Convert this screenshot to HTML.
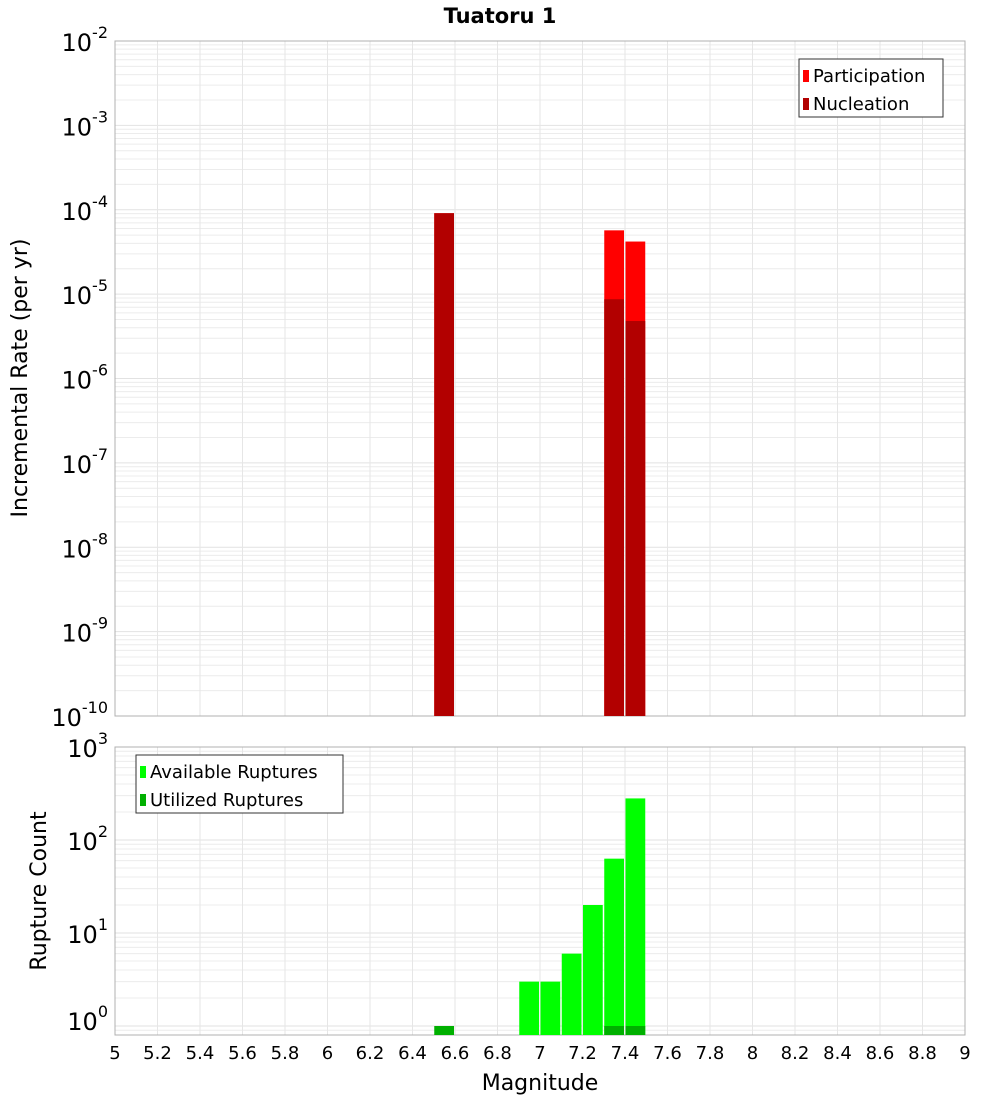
<!DOCTYPE html>
<html><head><meta charset="utf-8"><style>
body{margin:0;background:#fff;}
svg text{font-family:"DejaVu Sans","Liberation Sans",sans-serif;fill:#000;}
</style></head><body>
<svg id="c" width="1000" height="1100" xmlns="http://www.w3.org/2000/svg">
<text x="500" y="23" text-anchor="middle" font-size="21" font-weight="bold">Tuatoru 1</text>
<g id="top"></g><g id="bot"></g>
<text transform="translate(27,378) rotate(-90)" text-anchor="middle" font-size="22">Incremental Rate (per yr)</text>
<text transform="translate(46,891) rotate(-90)" text-anchor="middle" font-size="22">Rupture Count</text>
<text x="540" y="1090" text-anchor="middle" font-size="22">Magnitude</text>
</svg>
<script>
const mags = [6.55, 7.35, 7.45];
const participation = [9.1e-5, 5.7e-5, 4.2e-5];
const nucleation = [9.1e-5, 8.7e-6, 4.8e-6];
const countMags = [6.55, 6.95, 7.05, 7.15, 7.25, 7.35, 7.45];
const available = [0, 3, 3, 6, 20, 63, 280];
const utilized = [1, 0, 0, 0, 0, 1, 1];
const xTicks = [5,5.2,5.4,5.6,5.8,6,6.2,6.4,6.6,6.8,7,7.2,7.4,7.6,7.8,8,8.2,8.4,8.6,8.8,9];
const topExps = [-2,-3,-4,-5,-6,-7,-8,-9,-10];
const botExps = [3,2,1,0];

const NS='http://www.w3.org/2000/svg';
const X0=115,X1=965;
const x=m=>X0+(m-5)/4*(X1-X0);
const yTop=v=>41+(-2-Math.log10(v))*84.375;
const yBot=v=>840+(2-Math.log10(v))*93;
function mk(p,t,a){const e=document.createElementNS(NS,t);for(const k in a)e.setAttribute(k,a[k]);p.appendChild(e);return e;}
function panel(g,top,bottom,yf,lo,hi,name){
  for(let d=lo;d<hi;d++)for(let k=1;k<10;k++){const y=yf(k*Math.pow(10,d));if(y<top||y>bottom)continue;
    const l=mk(g,'line',{x1:X0,x2:X1,y1:y,y2:y,stroke:k==1?'#e2e2e2':'#ececec','stroke-width':1});
    
    }
  xTicks.forEach(t=>{const l=mk(g,'line',{x1:x(t),x2:x(t),y1:top,y2:bottom,stroke:'#e6e6e6'});
    
    });
  const r=mk(g,'rect',{x:X0,y:top,width:X1-X0,height:bottom-top,fill:'none',stroke:'#b0b0b0'});
  
  
}
const gt=document.getElementById('top'),gb=document.getElementById('bot');
panel(gt,41,716,yTop,-10,-2,'rate');
panel(gb,747,1035,yBot,-1,3,'count');
function bar(g,m,v,yf,base,col,name){if(v<=0)return;const y=Math.max(yf(v),0);
  const b=mk(g,'rect',{x:x(m-0.05)+0.5,y:y,width:x(m+0.05)-x(m-0.05)-1.5,height:base-y,fill:col});
  
  }
mags.forEach((m,i)=>bar(gt,m,participation[i],yTop,716,'#ff0000','participation-bar'));
mags.forEach((m,i)=>bar(gt,m,nucleation[i],yTop,716,'#b20000','nucleation-bar'));
countMags.forEach((m,i)=>bar(gb,m,available[i],yBot,1035,'#00ff00','available-bar'));
countMags.forEach((m,i)=>bar(gb,m,utilized[i],yBot,1035,'#00b000','utilized-bar'));
function ylab(g,e,y,name){const t=mk(g,'text',{x:108,y:y+10,'text-anchor':'end','font-size':24});
  
  
  t.textContent='10';const s=mk(t,'tspan',{dy:-13,'font-size':16});s.textContent=String(e);}
topExps.forEach(e=>ylab(gt,e,yTop(Math.pow(10,e)),'rate-y-tick-label'));
botExps.forEach(e=>ylab(gb,e,e==0?1020:yBot(Math.pow(10,e)),'count-y-tick-label'));
xTicks.forEach(t=>{const l=mk(gb,'text',{x:x(t),y:1059,'text-anchor':'middle','font-size':18});
  
  
  l.textContent=String(t);});
function legend(g,x0,y0,w,items,name){const r=mk(g,'rect',{x:x0,y:y0,width:w,height:58,fill:'#fff',stroke:'#333'});
  
  
  items.forEach((it,i)=>{const s=mk(g,'rect',{x:x0+4,y:y0+11+i*28,width:6,height:12,fill:it[1]});
    
    
    const t=mk(g,'text',{x:x0+14,y:y0+23+i*28,'font-size':18});
    
    
    t.textContent=it[0];});}
legend(gt,799,59,144,[['Participation','#ff0000'],['Nucleation','#b20000']],'rate-legend');
legend(gb,136,755,207,[['Available Ruptures','#00ff00'],['Utilized Ruptures','#00b000']],'count-legend');
</script>
</body></html>
